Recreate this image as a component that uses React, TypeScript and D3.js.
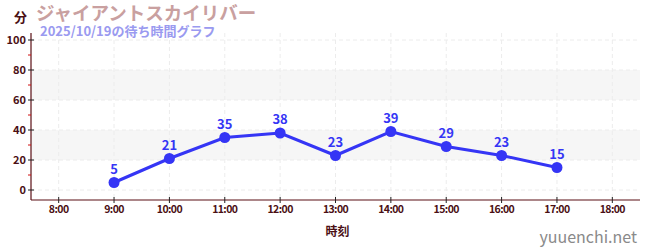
import React from "react";
import * as d3 from "d3";

const hours = [9, 10, 11, 12, 13, 14, 15, 16, 17];
const waits = [5, 21, 35, 38, 23, 39, 29, 23, 15];
const xTickHours = [8, 9, 10, 11, 12, 13, 14, 15, 16, 17, 18];
const yTicks = [0, 20, 40, 60, 80, 100];
const yMinor = [10, 30, 50, 70, 90];
const bands = [[20, 40], [60, 80]];
const title = "ジャイアントスカイリバー";
const subtitle = "2025/10/19の待ち時間グラフ";

const W = 650, H = 250;
const left = 31, right = 640, top = 33, bottom = 200;
const font = "'Noto Sans CJK JP', 'Noto Sans', sans-serif";
const axisColor = "#5a0f14";

export default function App() {
  const x = d3.scaleLinear().domain([7.5, 18.5]).range([left, right]);
  const y = d3.scaleLinear().domain([0, 100]).range([190, 40]);
  const line = d3.line<number>().x((_, i) => x(hours[i])).y((d) => y(d));
  return (
    <svg width={W} height={H} style={{ position: "absolute", left: 0, top: 0 }} fontFamily={font}>
      <rect x={0} y={0} width={W} height={H} fill="#fff" />
      {bands.map(([a, b], i) => (
        <rect key={i} x={left} y={y(b)} width={right - left} height={y(a) - y(b)} fill="#f6f6f6" />
      ))}
      {yTicks.map((t) => (
        <line key={"g" + t} x1={left} x2={right} y1={y(t)} y2={y(t)} stroke="#ececec" strokeDasharray="4,3" />
      ))}
      {xTickHours.map((h) => (
        <line key={"v" + h} x1={x(h)} x2={x(h)} y1={top} y2={bottom} stroke="#ececec" strokeDasharray="4,3" />
      ))}
      <line x1={left} x2={left} y1={top} y2={bottom} stroke={axisColor} strokeWidth={1.2} />
      <line x1={left} x2={right} y1={bottom} y2={bottom} stroke={axisColor} strokeWidth={1.2} />
      {yTicks.map((t) => (
        <g key={"y" + t}>
          <line x1={left - 3} x2={left + 3} y1={y(t)} y2={y(t)} stroke="#222" />
          <text x={left - 5} y={y(t)} dy="0.35em" textAnchor="end" fontSize={11} fontWeight="bold" fill="#4a0f14">{t}</text>
        </g>
      ))}
      {yMinor.map((t) => (
        <line key={"m" + t} x1={left - 3} x2={left} y1={y(t)} y2={y(t)} stroke="#d01010" />
      ))}
      {xTickHours.map((h) => (
        <g key={"x" + h}>
          <line x1={x(h)} x2={x(h)} y1={bottom - 3} y2={bottom + 3} stroke="#222" />
          <text x={x(h)} y={bottom + 13} textAnchor="middle" fontSize={10.5} fontWeight="bold" fill="#4a0f14" letterSpacing={-0.6}>{h}:00</text>
        </g>
      ))}
      <path d={line(waits) || ""} fill="none" stroke="#3535f5" strokeWidth={3} />
      {waits.map((v, i) => (
        <g key={"p" + i}>
          <circle cx={x(hours[i])} cy={y(v)} r={5.5} fill="#3535f5" />
          <text x={x(hours[i])} y={y(v) - 9} textAnchor="middle" fontSize={13} fontWeight="bold" fill="#3535f5">{v}</text>
        </g>
      ))}
      <text x={14} y={22} fontSize={13} fontWeight="bold" fill="#4a0f14">分</text>
      <text x={36} y={20} fontSize={18.5} fontWeight="bold" fill="#c9a0a0">{title}</text>
      <text x={40} y={36} fontSize={13} fontWeight="bold" fill="#9a9af0">{subtitle}</text>
      <text x={(left + right) / 2 + 2} y={236} textAnchor="middle" fontSize={12} fontWeight="bold" fill="#4a0f14">時刻</text>
      <text x={637} y={243} textAnchor="end" fontSize={16} fill="#8a8a8a">yuuenchi.net</text>
    </svg>
  );
}
